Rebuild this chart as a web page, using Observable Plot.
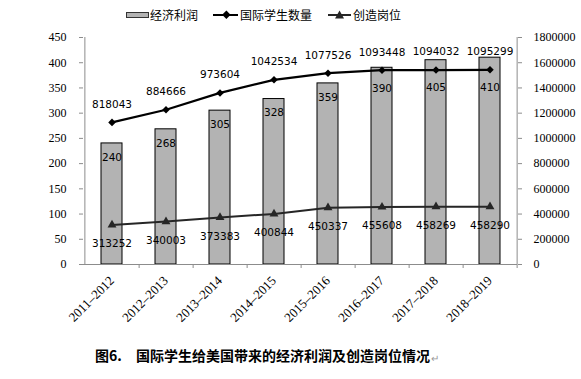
<!DOCTYPE html>
<html><head><meta charset="utf-8">
<script src="https://cdn.jsdelivr.net/npm/d3@7"></script>
<script src="https://cdn.jsdelivr.net/npm/@observablehq/plot@0.6"></script>
<style>
body{margin:0;background:#fff;}
#wrap{position:relative;width:581px;height:379px;overflow:hidden;background:#fff;}
#legend{position:absolute;top:0;left:0;width:581px;height:30px;}
#legend span{position:absolute;top:6px;font:12px "Noto Sans CJK SC";color:#000;line-height:18px;}
#legend svg{position:absolute;top:9px;}
#chart{position:absolute;top:30px;left:0;}
#caption{position:absolute;top:345px;left:0;width:581px;height:22px;font:bold 14px "Noto Sans CJK SC";color:#000;}
#caption span{position:absolute;top:0;line-height:20px;}
</style></head><body>
<div id="wrap">
  <div id="legend"></div>
  <div id="chart"></div>
  <div id="caption"></div>
</div>
<script>
// ---- data ----
const years = ["2011–2012","2012–2013","2013–2014","2014–2015","2015–2016","2016–2017","2017–2018","2018–2019"];
const profit = [240, 268, 305, 328, 359, 390, 405, 410];
const students = [818043, 884666, 973604, 1042534, 1077526, 1093448, 1094032, 1095299];
const jobs = [313252, 340003, 373383, 400844, 450337, 455608, 458269, 458290];
const leftTicks = [0, 50, 100, 150, 200, 250, 300, 350, 400, 450];
const rightTicks = [0, 200000, 400000, 600000, 800000, 1000000, 1200000, 1400000, 1600000, 1800000];
const seriesNames = ["经济利润", "国际学生数量", "创造岗位"];
const captionNum = "图6.";
const captionText = "国际学生给美国带来的经济利润及创造岗位情况";

// ---- scales helpers ----
const leftMax = 450, rightMax = 1800000;
const toLeft = v => v * leftMax / rightMax;             // secondary (right) axis
const studentAxis = d3.scaleLinear().domain([68000, 1266000]).range([0, leftMax]); // hidden axis of student series

const table = years.map((y, i) => ({year: y, profit: profit[i], students: students[i], jobs: jobs[i]}));

const W = 581, H = 305, ML = 83, MR = 64, MT = 7, MB = 71;
const step = (W - ML - MR) / years.length;
const pxPerUnit = (H - MT - MB) / leftMax;
const grey = "#8c8c8c";

// bar label: inside the bar below its top, pushed below the student line where they meet
const barLabelY = d => Math.min(d.profit - 14 / pxPerUnit, studentAxis(d.students) - 18 / pxPerUnit);

const chart = Plot.plot({
  width: W, height: H,
  marginLeft: ML, marginRight: MR, marginTop: MT, marginBottom: MB,
  style: {fontFamily: "Liberation Serif", fontSize: "12px", background: "white", color: "#000", overflow: "visible"},
  x: {type: "band", domain: years, paddingInner: 0.613, paddingOuter: 0.3065, label: null, axis: null},
  y: {domain: [0, leftMax], label: null, axis: null},
  marks: [
    Plot.barY(table, {x: "year", y: "profit", fill: "#b3b3b3", stroke: "#000", strokeWidth: 1}),
    // frame lines
    Plot.ruleY([0], {stroke: grey}),
    Plot.tickX([years[0]], {x: d => d, dx: -step / 2, stroke: grey}),
    Plot.tickX([years[years.length - 1]], {x: d => d, dx: step / 2, stroke: grey}),
    // axes
    Plot.axisY({anchor: "left", ticks: leftTicks, tickSize: 4, tickPadding: 13, stroke: grey, fill: "#000", fontSize: 12, fontFamily: "Liberation Serif", label: null}),
    Plot.axisY({anchor: "right", ticks: rightTicks.map(toLeft), tickFormat: d => String(Math.round(d * rightMax / leftMax)), tickSize: 4, tickPadding: 12, stroke: grey, fill: "#000", fontSize: 12, fontFamily: "Liberation Serif", label: null}),
    Plot.axisX({anchor: "bottom", tickSize: 0, tickPadding: 14, tickRotate: -45, fontSize: 13, fontFamily: "Liberation Serif", fill: "#000", label: null}),
    Plot.axisX({anchor: "bottom", tickSize: 4, tickFormat: () => "", dx: step / 2, stroke: grey, label: null}),
    // bar labels
    Plot.text(table, {x: "year", y: barLabelY, text: d => String(d.profit), fontSize: 10.5, fontFamily: "DejaVu Sans", fill: "#000"}),
    // jobs line (right axis)
    Plot.line(table, {x: "year", y: d => toLeft(d.jobs), stroke: "#262626", strokeWidth: 2}),
    Plot.dot(table, {x: "year", y: d => toLeft(d.jobs), symbol: "triangle", r: 3.3, fill: "#262626", stroke: "none"}),
    Plot.text(table, {x: "year", y: d => toLeft(d.jobs), text: d => String(d.jobs), dy: 19, fontSize: 10.5, fontFamily: "DejaVu Sans", fill: "#000"}),
    // students line
    Plot.line(table, {x: "year", y: d => studentAxis(d.students), stroke: "#000", strokeWidth: 2.2}),
    Plot.dot(table, {x: "year", y: d => studentAxis(d.students), symbol: "square", rotate: 45, r: 3, fill: "#000", stroke: "none"}),
    Plot.text(table, {x: "year", y: d => studentAxis(d.students), text: d => String(d.students), dy: -18, fontSize: 10.5, fontFamily: "DejaVu Sans", fill: "#000"})
  ]
});
document.getElementById("chart").appendChild(chart);

// ---- legend ----
const legend = document.getElementById("legend");
function addSvg(left, w, inner) {
  const ns = "http://www.w3.org/2000/svg";
  const s = document.createElementNS(ns, "svg");
  s.setAttribute("width", w); s.setAttribute("height", 12);
  s.style.left = left + "px";
  s.innerHTML = inner;
  legend.appendChild(s);
}
function addText(left, t) {
  const sp = document.createElement("span");
  sp.style.left = left + "px"; sp.textContent = t;
  legend.appendChild(sp);
}
addSvg(126, 24, '<rect x="0.5" y="3.5" width="22" height="5" fill="#b3b3b3" stroke="#333" stroke-width="1"/>');
addText(150, seriesNames[0]);
addSvg(212, 28, '<line x1="1" y1="6" x2="26" y2="6" stroke="#000" stroke-width="2"/><rect x="11" y="2.5" width="6" height="6" fill="#000" transform="rotate(45 14 6)"/>');
addText(240, seriesNames[1]);
addSvg(327, 26, '<line x1="1" y1="6" x2="24" y2="6" stroke="#262626" stroke-width="2"/><path d="M12.5,1.5 L17,9.5 L8,9.5 Z" fill="#262626"/>');
addText(353, seriesNames[2]);

// ---- caption ----
const cap = document.getElementById("caption");
const s1 = document.createElement("span"); s1.style.left = "95px"; s1.textContent = captionNum; cap.appendChild(s1);
const s2 = document.createElement("span"); s2.style.left = "136px"; s2.textContent = captionText; cap.appendChild(s2);
const s3 = document.createElement("span"); s3.style.left = "431px"; s3.style.fontWeight = "normal"; s3.style.fontSize = "10px"; s3.style.color = "#999"; s3.style.top = "3px"; s3.textContent = "↵"; cap.appendChild(s3);
</script>
</body></html>
